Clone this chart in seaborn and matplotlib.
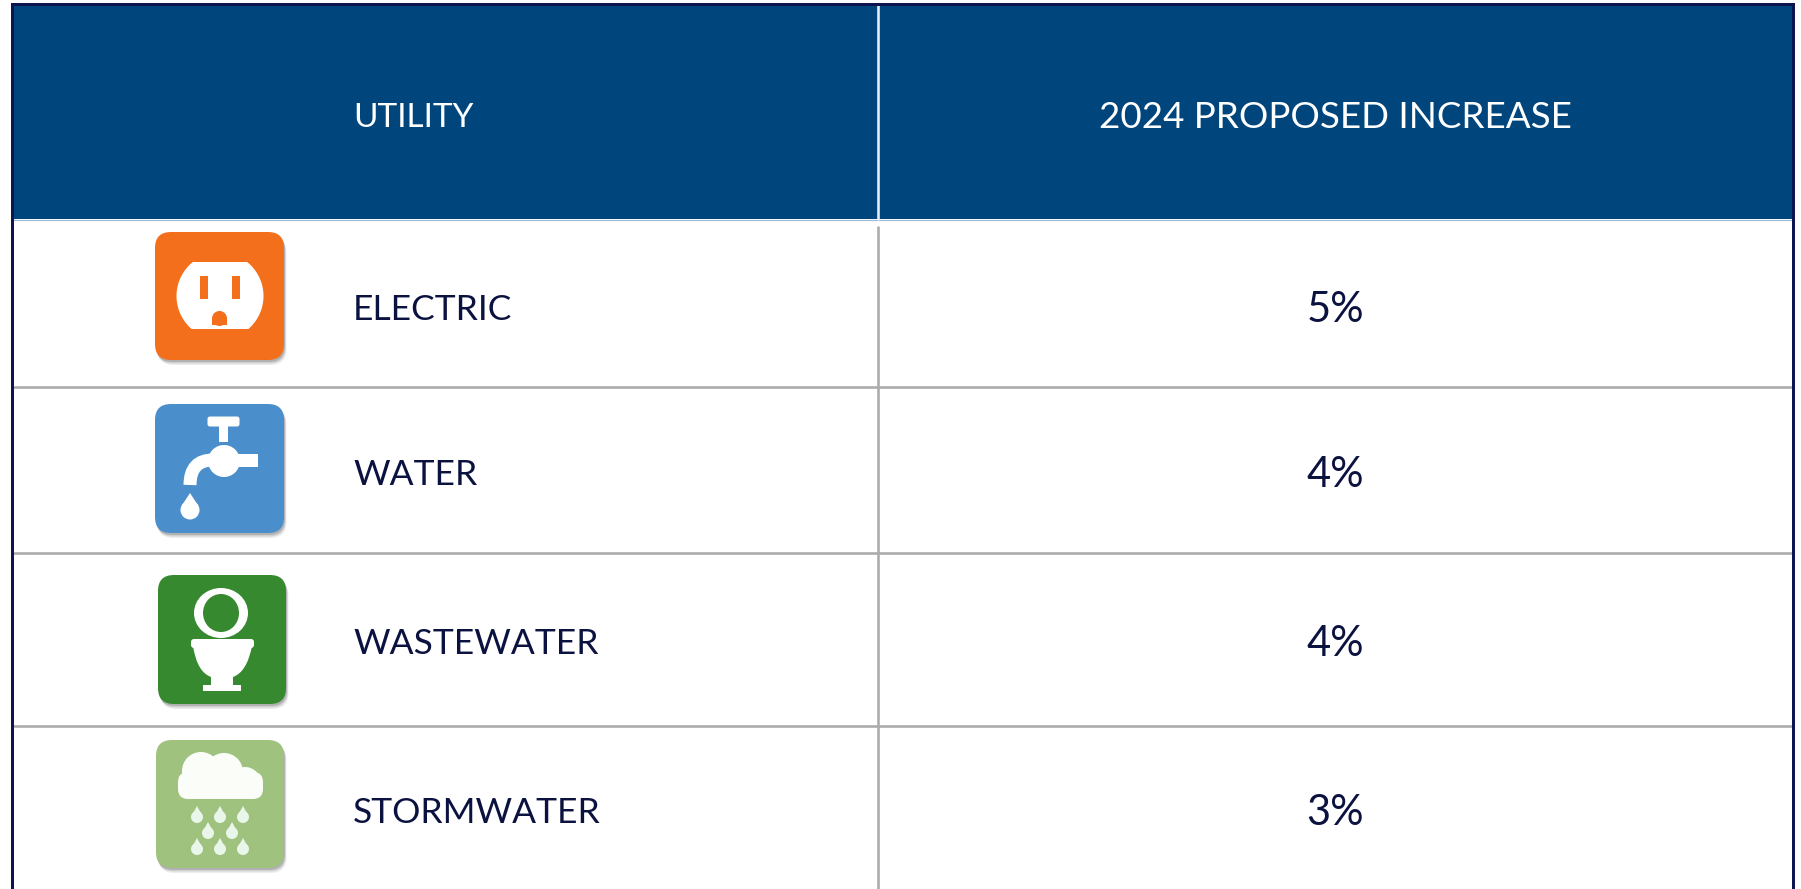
"""Utility rate table: 2024 proposed increase per utility, with icons."""

import matplotlib
matplotlib.use("Agg")
import matplotlib.pyplot as plt
import numpy as np
import seaborn as sns
from matplotlib.colors import ListedColormap
from matplotlib.patches import Circle, Ellipse, FancyBboxPatch, PathPatch, Polygon, Rectangle
from matplotlib.path import Path as MPath

HEADERS = ["UTILITY", "2024 PROPOSED INCREASE"]
UTILITIES = ["ELECTRIC", "WATER", "WASTEWATER", "STORMWATER"]
INCREASES = [5, 4, 4, 3]

W, H = 1801, 889
COL_EDGES = [12, 877, 1792]
ROW_EDGES = [5, 219, 387, 553, 726, 889]
TEXT_Y = [118, 310, 475, 644, 813]
LEFT_X = 353
RIGHT_X = 1335

NAVY = "#00457C"
INK = "#0B1240"
RULE = "#ABABAB"
FONT = "Lato"

sns.set_theme(style="white")
plt.rcParams["font.family"] = [FONT, "DejaVu Sans"]

fig = plt.figure(figsize=(W / 100, H / 100), dpi=100, facecolor="white")
cell_cmap = ListedColormap(["white", NAVY])


def px_axes(x0, y0, x1, y1):
    return fig.add_axes([x0 / W, 1 - y1 / H, (x1 - x0) / W, (y1 - y0) / H])


# one heatmap cell per table cell, rows are not the same height
for r in range(len(ROW_EDGES) - 1):
    for c in range(2):
        cell_ax = px_axes(COL_EDGES[c], ROW_EDGES[r], COL_EDGES[c + 1], ROW_EDGES[r + 1])
        sns.heatmap(
            np.array([[1 if r == 0 else 0]]),
            cmap=cell_cmap,
            vmin=0,
            vmax=1,
            cbar=False,
            xticklabels=False,
            yticklabels=False,
            ax=cell_ax,
        )

# overlay in pixel coordinates for rules, text and icons
ax = fig.add_axes([0, 0, 1, 1], facecolor="none")
ax.set_xlim(0, W)
ax.set_ylim(H, 0)
ax.axis("off")


def lw(px):
    return px * 72 / 100


ax.plot([12, 1792], [219.5, 219.5], color="#9DBBD3", lw=lw(1.2), zorder=2)
ax.plot([877.5, 877.5], [5, 219], color="#E8EEF3", lw=lw(2.6), zorder=2)
ax.plot([877.5, 877.5], [227, H], color=RULE, lw=lw(2.6), zorder=2)
for y in ROW_EDGES[2:-1]:
    ax.plot([12, 1792], [y, y], color=RULE, lw=lw(2.6), zorder=2)

# outer frame, open at the bottom
ax.plot([11.5, 11.5], [H, 3.5], color="#0E1450", lw=lw(3), zorder=3, solid_capstyle="projecting")
ax.plot([11.5, 1792.5], [3.5, 3.5], color="#0E1450", lw=lw(3), zorder=3)
ax.plot([1792.5, 1792.5], [3.5, H], color="#0E1450", lw=lw(3), zorder=3, solid_capstyle="projecting")

# text
ax.text(LEFT_X, TEXT_Y[0], HEADERS[0], color="white", fontsize=24, fontweight="normal",
        ha="left", va="center", zorder=5)
ax.text(RIGHT_X, TEXT_Y[0], HEADERS[1], color="white", fontsize=26.5, fontweight="normal",
        ha="center", va="center", zorder=5)
for name, pct, y in zip(UTILITIES, INCREASES, TEXT_Y[1:]):
    ax.text(LEFT_X, y, name, color=INK, fontsize=25.5, fontweight="normal",
            ha="left", va="center", zorder=5)
    ax.text(RIGHT_X, y, f"{pct}%", color=INK, fontsize=30, fontweight="normal",
            ha="center", va="center", zorder=5)


def box(x0, y0, x1, y1, color):
    for off, alpha in [(5, 0.10), (3.5, 0.18), (2, 0.25)]:
        ax.add_patch(FancyBboxPatch(
            (x0 + 16 + off * 0.5, y0 + 16 + off), x1 - x0 - 32, y1 - y0 - 32,
            boxstyle="round,pad=16,rounding_size=16", fc="#555555", ec="none", alpha=alpha, zorder=3,
        ))
    ax.add_patch(FancyBboxPatch(
        (x0 + 16, y0 + 16), x1 - x0 - 32, y1 - y0 - 32,
        boxstyle="round,pad=16,rounding_size=16", fc=color, ec="none", zorder=4,
    ))


def add(patch):
    patch.set_zorder(5)
    ax.add_patch(patch)
    return patch


def outlet_icon():
    orange = "#F36F1B"
    box(155, 232, 284, 360, orange)
    face = add(Circle((220, 296), 43.5, fc="white", ec="none"))
    face.set_clip_path(Rectangle((150, 262), 140, 67, transform=ax.transData))
    add(Rectangle((200, 276), 8, 23, fc=orange, ec="none"))
    add(Rectangle((232, 276), 8, 23, fc=orange, ec="none"))
    add(Rectangle((212, 318), 15, 7, fc=orange, ec="none"))
    add(Circle((219.5, 318.5), 7.5, fc=orange, ec="none"))


def faucet_icon():
    box(155, 404, 284, 533, "#4A8ECC")
    add(FancyBboxPatch((210, 419), 27, 5, boxstyle="round,pad=2.5", fc="white", ec="none"))
    add(Rectangle((219, 424), 9, 18, fc="white", ec="none"))
    add(Circle((224, 461), 16, fc="white", ec="none"))
    add(Rectangle((224, 454), 34, 13, fc="white", ec="none"))
    spout = MPath([(190, 485), (190, 460), (213, 460), (226, 460)],
                  [MPath.MOVETO, MPath.CURVE3, MPath.CURVE3, MPath.LINETO])
    add(PathPatch(spout, fc="none", ec="white", lw=lw(13), capstyle="butt"))
    add(Polygon([(190, 493), (181.5, 506), (198.5, 506)], fc="white", ec="none"))
    add(Circle((190, 510), 9.5, fc="white", ec="none"))


def toilet_icon():
    green = "#37892F"
    box(158, 575, 286, 704, green)
    add(Ellipse((221, 613), 54, 50, fc="white", ec="none"))
    add(Ellipse((221, 613), 36, 38, fc=green, ec="none"))
    add(FancyBboxPatch((194, 642), 57, 3, boxstyle="round,pad=3", fc="white", ec="none"))
    bowl = MPath(
        [(193, 646), (197, 672), (211, 677), (211, 686), (233, 686), (233, 677), (247, 672), (252, 646), (193, 646)],
        [MPath.MOVETO, MPath.CURVE3, MPath.CURVE3, MPath.LINETO, MPath.LINETO, MPath.LINETO,
         MPath.CURVE3, MPath.CURVE3, MPath.CLOSEPOLY],
    )
    add(PathPatch(bowl, fc="white", ec="none"))
    add(Rectangle((203, 685), 38, 6, fc="white", ec="none"))


def rain_icon():
    box(156, 740, 284, 868, "#A0C27F")
    cloud = "#FBFDF9"
    add(FancyBboxPatch((188, 782), 65, 7, boxstyle="round,pad=10", fc=cloud, ec="none"))
    add(Circle((201, 771), 19, fc=cloud, ec="none"))
    add(Circle((224, 772), 19, fc=cloud, ec="none"))
    add(Circle((245, 783), 16, fc=cloud, ec="none"))
    drop_col = "#E9F6EA"
    rows = [(817, [197, 220, 243]), (833, [208, 232]), (849, [197, 220, 243])]
    for y, xs in rows:
        for x in xs:
            add(Polygon([(x, y - 11), (x - 5.5, y - 1), (x + 5.5, y - 1)], fc=drop_col, ec="none"))
            add(Circle((x, y), 6, fc=drop_col, ec="none"))


outlet_icon()
faucet_icon()
toilet_icon()
rain_icon()

fig.savefig("out.png", dpi=100, facecolor="white")
plt.close(fig)
